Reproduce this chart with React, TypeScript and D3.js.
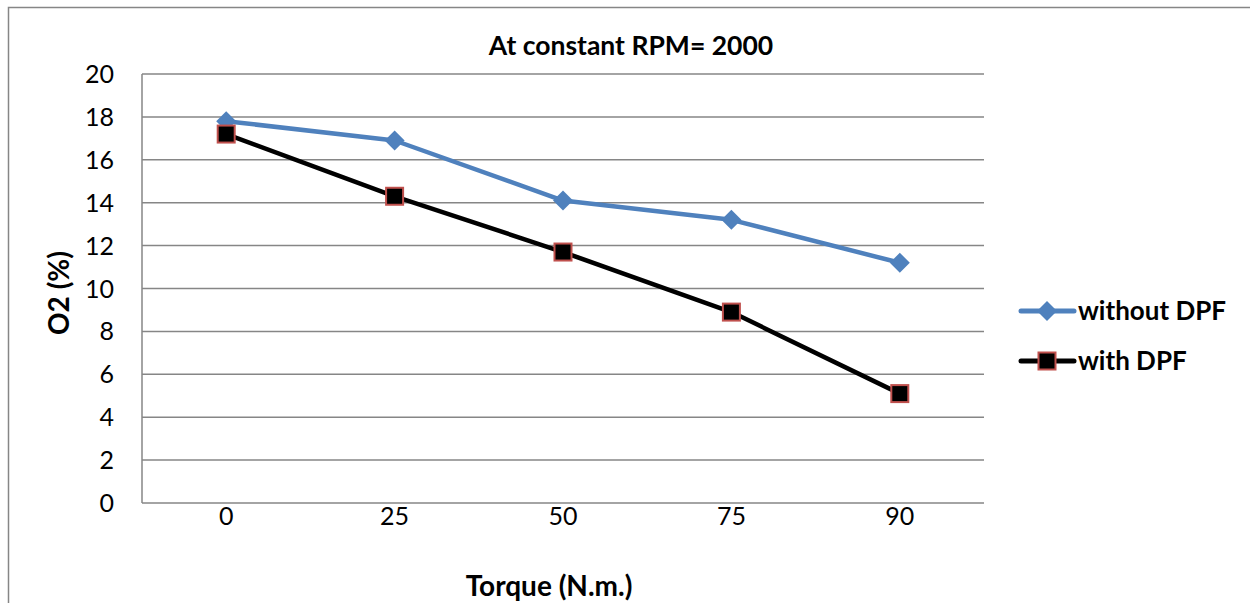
import React from "react";
import * as d3 from "d3";

const categories = ["0", "25", "50", "75", "90"];
const withoutDPF = [17.8, 16.9, 14.1, 13.2, 11.2];
const withDPF = [17.2, 14.3, 11.7, 8.9, 5.1];
const yTicks = [0, 2, 4, 6, 8, 10, 12, 14, 16, 18, 20];
const seriesNames = ["without DPF", "with DPF"];

const FONT = "Lato, 'Open Sans', sans-serif";

export default function App() {
  const W = 1250, H = 603;
  const left = 142, right = 984, top = 74, bottom = 503;
  const x = d3.scaleBand().domain(categories).range([left, right]);
  const y = d3.scaleLinear().domain([0, 20]).range([bottom, top]);
  const cx = (c: string) => (x(c) as number) + x.bandwidth() / 2;
  const line = d3.line<number>().x((_, i) => cx(categories[i])).y((d) => y(d));
  const blue = "#4F81BD";
  const grid = "#868686";
  const diamond = (px: number, py: number, r: number) =>
    `M${px},${py - r}L${px + r},${py}L${px},${py + r}L${px - r},${py}Z`;
  const sq = 17;

  return (
    <svg width={W} height={H} style={{ position: "absolute", left: 0, top: 0, background: "#fff" }}>
      <rect x={8.5} y={7.5} width={W + 10} height={H + 10} fill="#fff" stroke={grid} strokeWidth={1.5} />
      {yTicks.map((t) => (
        <g key={t}>
          <line x1={left} x2={right} y1={y(t)} y2={y(t)} stroke={grid} strokeWidth={1.5} />
          <text x={114} y={y(t)} dy="0.36em" textAnchor="end" fontFamily={FONT} fontSize={25} fill="#000">{t}</text>
        </g>
      ))}
      <line x1={left} x2={left} y1={top} y2={bottom} stroke={grid} strokeWidth={1.5} />
      {categories.map((c) => (
        <text key={c} x={cx(c)} y={525} textAnchor="middle" fontFamily={FONT} fontSize={25} fill="#000">{c}</text>
      ))}
      <text x={631} y={55} textAnchor="middle" fontFamily={FONT} fontWeight="bold" fontSize={26.5} fill="#000">At constant RPM= 2000</text>
      <text transform={`translate(69,293) rotate(-90)`} textAnchor="middle" fontFamily={FONT} fontWeight="bold" fontSize={28} fill="#000">O2 (%)</text>
      <text x={549} y={596} textAnchor="middle" fontFamily={FONT} fontWeight="bold" fontSize={28} fill="#000">Torque (N.m.)</text>

      <path d={line(withoutDPF) || ""} fill="none" stroke={blue} strokeWidth={4.5} strokeLinejoin="round" />
      {withoutDPF.map((v, i) => (
        <path key={i} d={diamond(cx(categories[i]), y(v), 10)} fill={blue} />
      ))}
      <path d={line(withDPF) || ""} fill="none" stroke="#000" strokeWidth={4.5} strokeLinejoin="round" />
      {withDPF.map((v, i) => (
        <rect key={i} x={cx(categories[i]) - sq / 2} y={y(v) - sq / 2} width={sq} height={sq} fill="#000" stroke="#C0504D" strokeWidth={2} />
      ))}

      <g>
        <line x1={1021} x2={1074} y1={311} y2={311} stroke={blue} strokeWidth={5} strokeLinecap="round" />
        <path d={diamond(1047, 311, 10)} fill={blue} />
        <text x={1078} y={311} dy="0.36em" fontFamily={FONT} fontWeight="bold" fontSize={26} fill="#000">{seriesNames[0]}</text>
        <line x1={1021} x2={1074} y1={361} y2={361} stroke="#000" strokeWidth={5} strokeLinecap="round" />
        <rect x={1047 - sq / 2} y={361 - sq / 2} width={sq} height={sq} fill="#000" stroke="#C0504D" strokeWidth={2} />
        <text x={1078} y={361} dy="0.36em" fontFamily={FONT} fontWeight="bold" fontSize={26} fill="#000">{seriesNames[1]}</text>
      </g>
    </svg>
  );
}
